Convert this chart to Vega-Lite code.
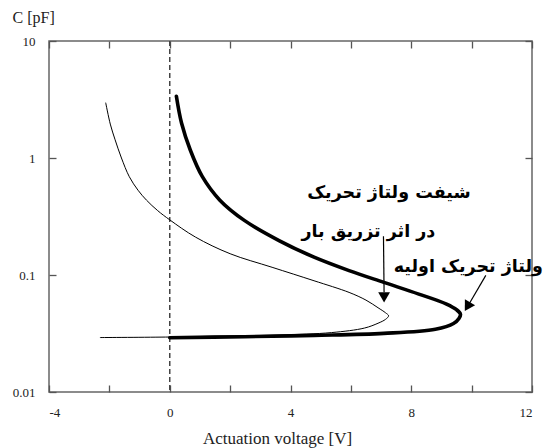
{
  "$schema": "https://vega.github.io/schema/vega-lite/v6.json",
  "width": 483,
  "height": 351,
  "autosize": {"type": "none"},
  "padding": {"left": 49, "top": 41, "right": 15, "bottom": 56},
  "background": "white",
  "config": {
    "view": {"stroke": "#666666", "strokeWidth": 1.5},
    "axis": {
      "labelFont": "Liberation Serif",
      "labelFontSize": 13,
      "labelColor": "#222222",
      "titleFont": "Liberation Serif",
      "titleFontSize": 17,
      "titleFontWeight": "normal",
      "titleColor": "#222222",
      "domain": false,
      "grid": false,
      "tickColor": "#555555",
      "tickWidth": 1.3,
      "tickSize": -7
    }
  },
  "datasets": {
    "curves": [
      {"series": "shifted", "i": 1, "v": -2.12, "c": 2.95},
      {"series": "shifted", "i": 2, "v": -1.97, "c": 1.95},
      {"series": "shifted", "i": 3, "v": -1.81, "c": 1.43},
      {"series": "shifted", "i": 4, "v": -1.6, "c": 1.0},
      {"series": "shifted", "i": 5, "v": -1.34, "c": 0.692},
      {"series": "shifted", "i": 6, "v": -1.05, "c": 0.53},
      {"series": "shifted", "i": 7, "v": -0.77, "c": 0.436},
      {"series": "shifted", "i": 8, "v": -0.4, "c": 0.355},
      {"series": "shifted", "i": 9, "v": 0.0, "c": 0.296},
      {"series": "shifted", "i": 10, "v": 0.85, "c": 0.211},
      {"series": "shifted", "i": 11, "v": 2.0, "c": 0.152},
      {"series": "shifted", "i": 12, "v": 3.39, "c": 0.1164},
      {"series": "shifted", "i": 13, "v": 4.78, "c": 0.0893},
      {"series": "shifted", "i": 14, "v": 5.94, "c": 0.071},
      {"series": "shifted", "i": 15, "v": 6.5, "c": 0.061},
      {"series": "shifted", "i": 16, "v": 6.9, "c": 0.0525},
      {"series": "shifted", "i": 17, "v": 7.15, "c": 0.0475},
      {"series": "shifted", "i": 18, "v": 7.25, "c": 0.0448},
      {"series": "shifted", "i": 19, "v": 7.15, "c": 0.0418},
      {"series": "shifted", "i": 20, "v": 6.9, "c": 0.0387},
      {"series": "shifted", "i": 21, "v": 6.45, "c": 0.0352},
      {"series": "shifted", "i": 22, "v": 5.36, "c": 0.0322},
      {"series": "shifted", "i": 23, "v": 3.62, "c": 0.0307},
      {"series": "shifted", "i": 24, "v": 1.31, "c": 0.0299},
      {"series": "shifted", "i": 25, "v": 0.0, "c": 0.0295},
      {"series": "shifted", "i": 26, "v": -2.3, "c": 0.0292},
      {"series": "initial", "i": 1, "v": 0.22, "c": 3.37},
      {"series": "initial", "i": 2, "v": 0.39, "c": 1.99},
      {"series": "initial", "i": 3, "v": 0.68, "c": 1.17},
      {"series": "initial", "i": 4, "v": 1.08, "c": 0.692},
      {"series": "initial", "i": 5, "v": 1.66, "c": 0.436},
      {"series": "initial", "i": 6, "v": 2.47, "c": 0.293},
      {"series": "initial", "i": 7, "v": 3.62, "c": 0.197},
      {"series": "initial", "i": 8, "v": 4.78, "c": 0.142},
      {"series": "initial", "i": 9, "v": 5.94, "c": 0.109},
      {"series": "initial", "i": 10, "v": 7.09, "c": 0.0865},
      {"series": "initial", "i": 11, "v": 8.25, "c": 0.0687},
      {"series": "initial", "i": 12, "v": 9.17, "c": 0.0564},
      {"series": "initial", "i": 13, "v": 9.5, "c": 0.0505},
      {"series": "initial", "i": 14, "v": 9.63, "c": 0.0462},
      {"series": "initial", "i": 15, "v": 9.58, "c": 0.0425},
      {"series": "initial", "i": 16, "v": 9.4, "c": 0.0385},
      {"series": "initial", "i": 17, "v": 8.8, "c": 0.0344},
      {"series": "initial", "i": 18, "v": 7.09, "c": 0.0317},
      {"series": "initial", "i": 19, "v": 4.78, "c": 0.0305},
      {"series": "initial", "i": 20, "v": 2.47, "c": 0.0297},
      {"series": "initial", "i": 21, "v": 0.0, "c": 0.0291}
    ],
    "zero": [{"v": 0}],
    "arrows": [
      {"x": 7.08, "y": 0.214, "x2": 7.1, "y2": 0.0711},
      {"x": 10.47, "y": 0.0993, "x2": 9.93, "y2": 0.0573}
    ],
    "heads": [
      {"x": 7.1, "y": 0.0644, "angle": 0},
      {"x": 9.86, "y": 0.0536, "angle": 30.5}
    ],
    "labels": [
      {"x": 7.26, "y": 0.499, "text": "شیفت ولتاژ تحریک"},
      {"x": 6.58, "y": 0.232, "text": "در اثر تزریق بار"},
      {"x": 9.89, "y": 0.1164, "text": "ولتاژ تحریک اولیه"}
    ]
  },
  "resolve": {"axis": {"x": "independent", "y": "independent"}},
  "layer": [
    {
      "data": {"name": "zero"},
      "mark": {"type": "rule", "color": "#444444", "strokeWidth": 1.5, "strokeDash": [5, 3]},
      "encoding": {
        "x": {
          "field": "v", "type": "quantitative",
          "scale": {"domain": [-4, 12], "nice": false, "zero": false},
          "axis": {"orient": "top", "values": [-4, -2, 0, 2, 4, 6, 8, 10, 12], "labels": false, "title": null}
        }
      }
    },
    {
      "data": {"name": "curves"},
      "mark": {"type": "line", "color": "black", "interpolate": "catmull-rom", "strokeCap": "round", "strokeJoin": "round"},
      "encoding": {
        "x": {
          "field": "v", "type": "quantitative",
          "scale": {"domain": [-4, 12], "nice": false, "zero": false},
          "axis": {
            "orient": "bottom",
            "values": [-4, -2, 0, 2, 4, 6, 8, 10, 12],
            "labelExpr": "datum.value % 4 === 0 ? (datum.value < 0 ? '-' + abs(datum.value) : '' + datum.value) : ''",
            "labelPadding": 21,
            "title": "Actuation voltage [V]",
            "titleX": 228,
            "titleY": 46,
            "titleBaseline": "middle",
            "titleAnchor": null,
            "titleAlign": "center"
          }
        },
        "y": {
          "field": "c", "type": "quantitative",
          "scale": {"type": "log", "domain": [0.01, 10], "nice": false},
          "axis": {
            "orient": "left",
            "values": [0.01, 0.1, 1, 10],
            "format": "~g",
            "labelPadding": 21,
            "title": "C [pF]",
            "titleAngle": 0,
            "titleAlign": "left",
            "titleBaseline": "middle",
            "titleX": -37,
            "titleY": -24,
            "titleFontSize": 16
          }
        },
        "detail": {"field": "series"},
        "order": {"field": "i", "type": "quantitative"},
        "strokeWidth": {
          "field": "series", "type": "nominal",
          "scale": {"domain": ["initial", "shifted"], "range": [3.6, 1]},
          "legend": null
        }
      }
    },
    {
      "data": {"name": "arrows"},
      "mark": {"type": "rule", "color": "black", "strokeWidth": 1.2},
      "encoding": {
        "x": {"field": "x", "type": "quantitative", "scale": {"domain": [-4, 12], "nice": false, "zero": false}, "axis": null},
        "x2": {"field": "x2"},
        "y": {
          "field": "y", "type": "quantitative",
          "scale": {"type": "log", "domain": [0.01, 10], "nice": false},
          "axis": {"orient": "right", "values": [0.01, 0.1, 1, 10], "labels": false, "title": null}
        },
        "y2": {"field": "y2"}
      }
    },
    {
      "data": {"name": "heads"},
      "mark": {"type": "point", "shape": "triangle-down", "filled": true, "color": "black", "size": 140, "opacity": 1},
      "encoding": {
        "x": {"field": "x", "type": "quantitative", "scale": {"domain": [-4, 12], "nice": false, "zero": false}, "axis": null},
        "y": {"field": "y", "type": "quantitative", "scale": {"type": "log", "domain": [0.01, 10], "nice": false}, "axis": null},
        "angle": {"field": "angle", "type": "quantitative", "scale": null}
      }
    },
    {
      "data": {"name": "labels"},
      "mark": {"type": "text", "font": "DejaVu Sans", "fontWeight": "bold", "fontSize": 17.5, "color": "black", "align": "center", "baseline": "middle"},
      "encoding": {
        "x": {"field": "x", "type": "quantitative", "scale": {"domain": [-4, 12], "nice": false, "zero": false}, "axis": null},
        "y": {"field": "y", "type": "quantitative", "scale": {"type": "log", "domain": [0.01, 10], "nice": false}, "axis": null},
        "text": {"field": "text"}
      }
    }
  ]
}
